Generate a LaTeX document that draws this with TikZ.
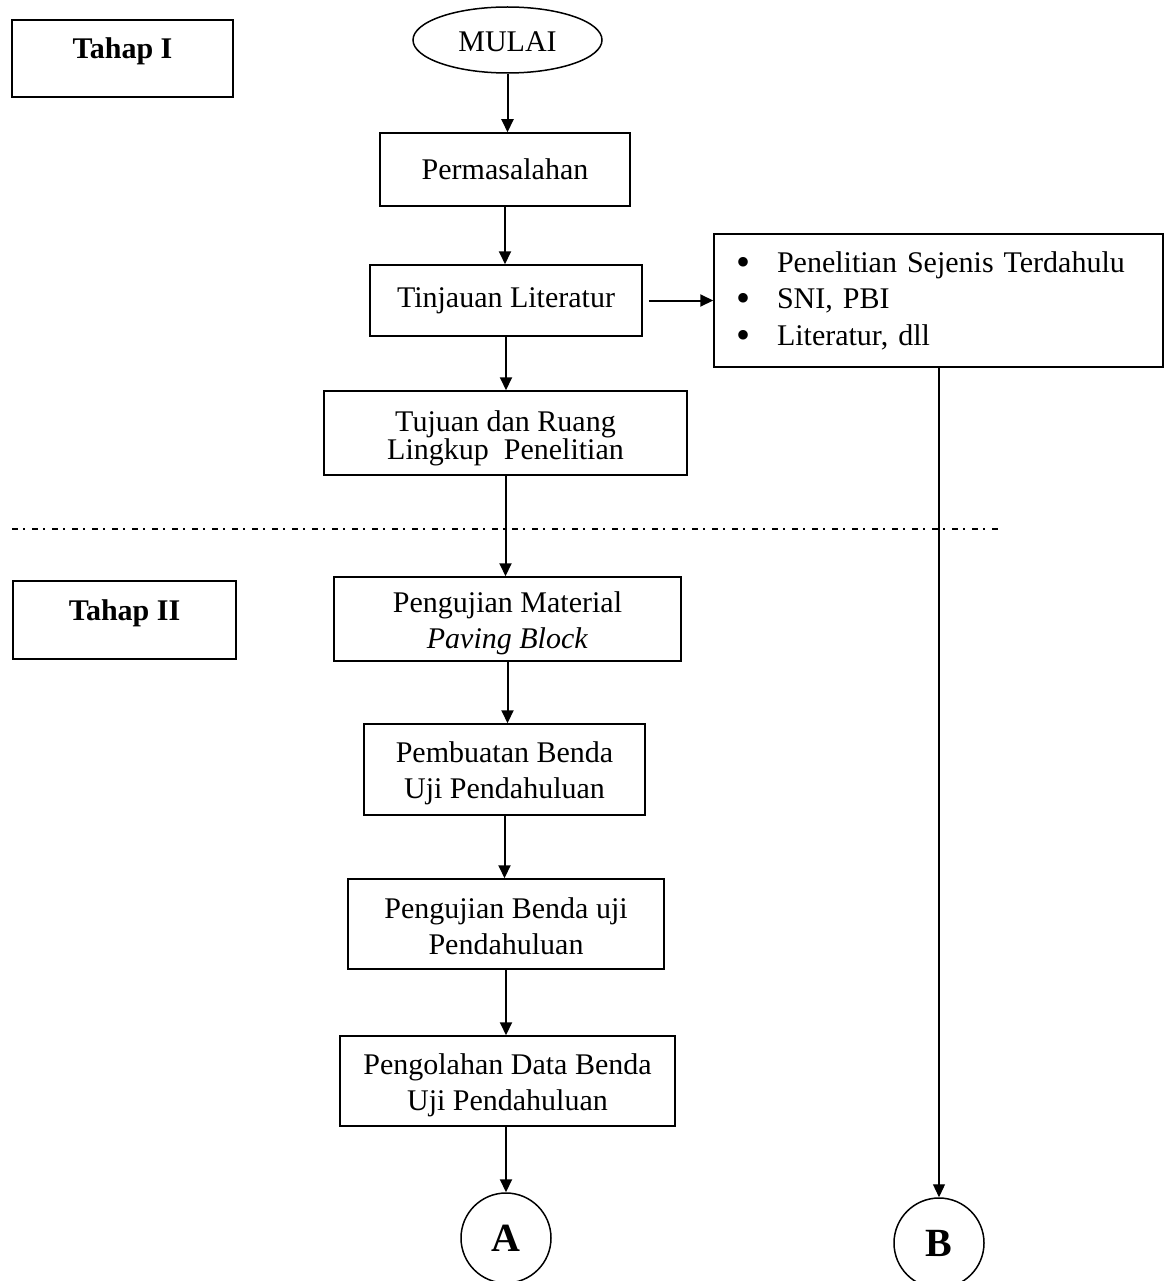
\documentclass[tikz,border=0pt]{standalone}
\usepackage{fontspec}
\setmainfont{Liberation Serif}
\usetikzlibrary{arrows.meta,shapes.geometric}
\newcommand{\bul}{\makebox[41pt][l]{\raisebox{-3pt}{\fontsize{40}{36}\selectfont•}}}
\begin{document}
\begin{tikzpicture}[x=1pt,y=-1pt,
  box/.style={draw,line width=1.5pt,inner sep=0pt,align=center,font=\fontsize{30}{36}\selectfont},
  twoline/.style={text height=65pt},
  tahapbox/.style={box,text height=20pt,text depth=20pt,font=\fontsize{30}{36}\selectfont\bfseries},
  conn/.style={draw,circle,line width=1.5pt,minimum size=90pt,inner sep=0pt,font=\fontsize{40}{40}\selectfont\bfseries},
  arr/.style={line width=2pt,-{Triangle[length=13pt,width=12pt]}},
  thinarr/.style={line width=1.2pt,-{Triangle[length=13pt,width=12pt]}},
  phase/.style={line width=1.3pt,dash pattern=on 6pt off 5pt on 2pt off 7pt}
]
\useasboundingbox (0,0) rectangle (1166,1281);

% phase labels
\node[tahapbox,minimum width=221pt,minimum height=77pt] (t1) at (122.5,58.5) {Tahap I};
\node[tahapbox,minimum width=223pt,minimum height=78pt] (t2) at (124.5,620) {Tahap II};

% start
\node[draw,ellipse,line width=1.5pt,minimum width=189pt,minimum height=66pt,inner sep=0pt,
      text height=23pt,font=\fontsize{30}{36}\selectfont] (mulai) at (507.5,40) {MULAI};

% main flow
\node[box,minimum width=250pt,minimum height=73pt] (perm) at (505,169.5) {Permasalahan};
\node[box,minimum width=272pt,minimum height=71pt] (tinj) at (506,300.5) {Tinjauan Literatur};
\node[box,minimum width=449pt,minimum height=133pt,align=left,text width=405pt,inner xsep=22pt,
      font=\fontsize{30}{36.5}\selectfont] (list) at (938.5,300.5)
  {\bul Penelitian Sejenis Terdahulu\\
   \bul SNI, PBI\\
   \bul Literatur, dll};
\node[box,minimum width=363pt,minimum height=84pt,text height=60pt,font=\fontsize{30}{28.5}\selectfont] (tuj) at (505.5,433)
  {Tujuan dan Ruang\\Lingkup\ \ Penelitian};

\draw[phase] (12,529) -- (1000,529);

\node[box,twoline,minimum width=347pt,minimum height=84pt] (pmat) at (507.5,619)
  {Pengujian Material\\\textit{Paving Block}};
\node[box,twoline,minimum width=281pt,minimum height=91pt] (pemb) at (504.5,769.5)
  {Pembuatan Benda\\Uji Pendahuluan};
\node[box,text height=61pt,minimum width=316pt,minimum height=90pt] (peng) at (506,924)
  {Pengujian Benda uji\\Pendahuluan};
\node[box,twoline,minimum width=335pt,minimum height=90pt] (pol) at (507.5,1081)
  {Pengolahan Data Benda\\Uji Pendahuluan};

\node[conn] (A) at (506,1238) {A};
\node[conn] (B) at (939,1243) {B};

% connectors
\draw[arr] (mulai.south) -- (mulai.south |- perm.north);
\draw[arr] (perm.south) -- (perm.south |- tinj.north);
\draw[arr] (tinj.south) -- (tinj.south |- tuj.north);
\draw[arr,shorten <=6pt] (tinj.east) -- (tinj.east -| list.west);
\draw[arr] (tuj.south) -- (tuj.south |- pmat.north);
\draw[arr] (pmat.south) -- (pmat.south |- pemb.north);
\draw[arr] (pemb.south) -- (pemb.south |- peng.north);
\draw[arr] (peng.south) -- (peng.south |- pol.north);
\draw[arr] (pol.south -| A.north) -- (A.north);
\draw[thinarr] (list.south -| B.north) -- (B.north);
\end{tikzpicture}
\end{document}
